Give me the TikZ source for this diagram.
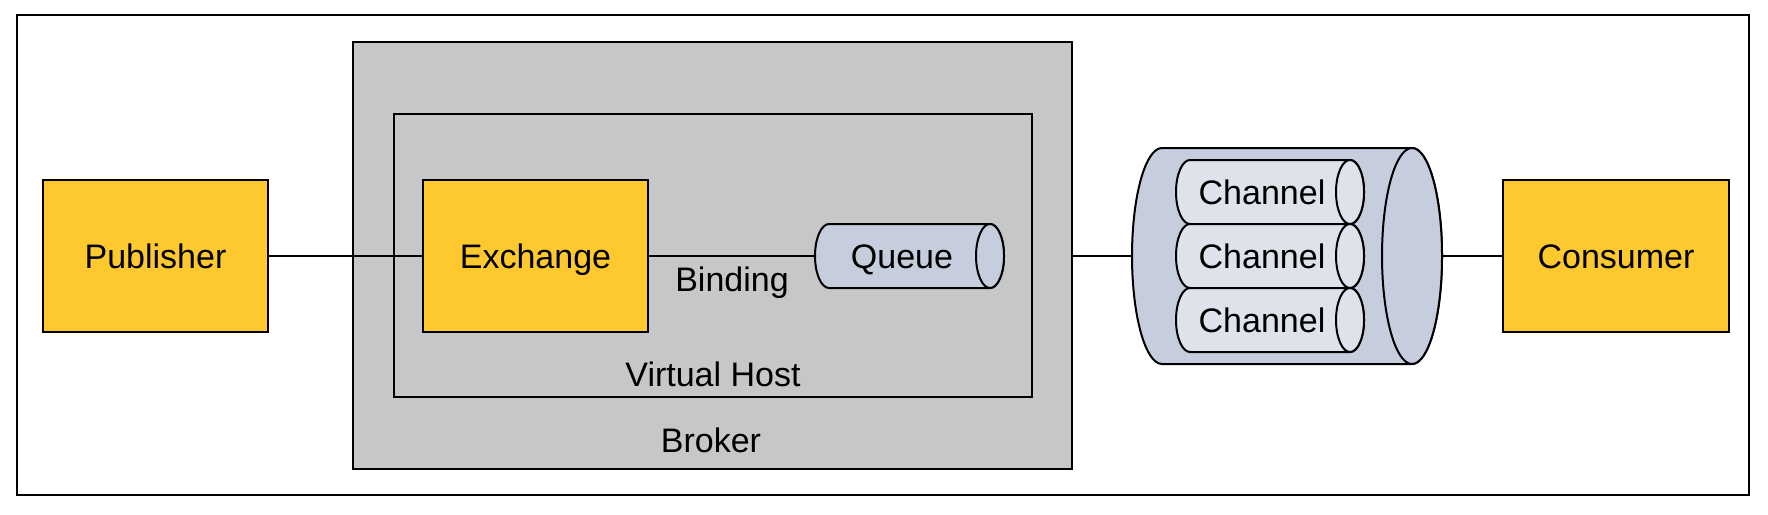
\documentclass[tikz,border=0pt]{standalone}
\usepackage{fontspec}
\setmainfont{Liberation Sans}
\definecolor{boxyellow}{HTML}{FEC92F}
\definecolor{brokergray}{HTML}{C6C7C9}
\definecolor{cyldark}{HTML}{C6CDDC}
\definecolor{cyllight}{HTML}{DEE2EA}
\begin{document}
\begin{tikzpicture}[x=1pt,y=-1pt,
  lw/.style={line width=2.4pt},
  txt/.style={font=\fontsize{34}{40}\selectfont,text height=24pt,text depth=0pt},
  ybox/.style={draw,lw,fill=boxyellow,minimum width=225pt,minimum height=152pt,inner sep=0pt,txt},
  lbl/.style={inner sep=0pt,txt},
  anchorbox/.style={inner sep=0pt,txt},
  conn/.style={lw}]
\useasboundingbox (0,0) rectangle (1768,514);
% outer frame
\draw[lw] (17,15) rectangle (1749,495);
% broker and virtual host
\node[draw,lw,fill=brokergray,minimum width=719pt,minimum height=427pt,inner sep=0pt] (broker) at (712.5,255.5) {};
\node[draw,lw,fill=brokergray,minimum width=638pt,minimum height=283pt,inner sep=0pt] (vhost) at (713,255.5) {};
\node[lbl] (brokerlbl) at (711,440) {Broker};
\node[lbl] (vhostlbl) at (713,374) {Virtual Host};
% yellow boxes
\node[ybox] (pub) at (155.5,256) {Publisher};
\node[ybox] (ex) at (535.5,256) {Exchange};
\node[ybox,minimum width=226pt] (cons) at (1616,256) {Consumer};
% queue cylinder
\draw[line width=2pt,fill=cyldark] (829,224) -- (990,224) arc[start angle=-90,end angle=90,x radius=14,y radius=32] -- (829,288) arc[start angle=90,end angle=270,x radius=14,y radius=32] -- cycle;
\draw[line width=2pt,fill=cyldark] (990,256) ellipse[x radius=14,y radius=32];
\node[anchorbox,minimum width=174pt,minimum height=64pt] (queue) at (902,256) {Queue};
% connection cylinder
\draw[line width=2pt,fill=cyldark] (1162,148) -- (1412,148) arc[start angle=-90,end angle=90,x radius=30,y radius=108] -- (1162,364) arc[start angle=90,end angle=270,x radius=30,y radius=108] -- cycle;
\draw[line width=2pt,fill=cyldark] (1412,256) ellipse[x radius=30,y radius=108];
\node[inner sep=0pt,minimum width=310pt,minimum height=216pt] (connection) at (1287,256) {};
% channels
\foreach \cy/\nm in {192/ch1,256/ch2,320/ch3}{
  \draw[line width=2pt,fill=cyllight] (1190,\cy-32) -- (1350,\cy-32) arc[start angle=-90,end angle=90,x radius=14,y radius=32] -- (1190,\cy+32) arc[start angle=90,end angle=270,x radius=14,y radius=32] -- cycle;
  \draw[line width=2pt,fill=cyllight] (1350,\cy) ellipse[x radius=14,y radius=32];
  \node[anchorbox] (\nm) at (1262,\cy) {Channel};
}
% connectors
\draw[conn] (pub.east) -- (ex.west);
\draw[conn] (ex.east) -- node[lbl,below=10pt] (binding) {Binding} (queue.west);
\draw[conn] (broker.east |- connection.west) -- (connection.west);
\draw[conn] (connection.east) -- (cons.west);
\end{tikzpicture}
\end{document}
